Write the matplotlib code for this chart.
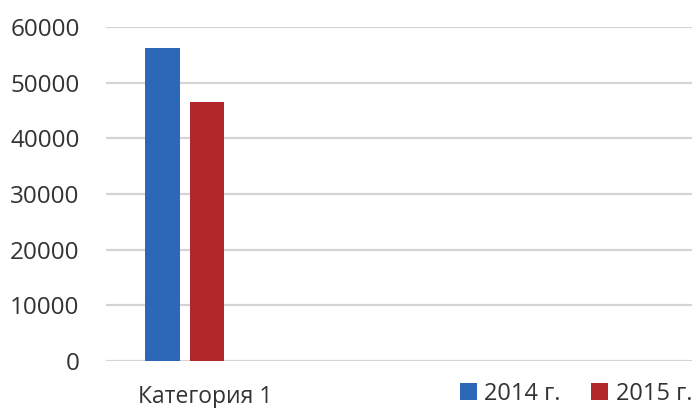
import matplotlib
matplotlib.use("Agg")
import matplotlib.pyplot as plt
import matplotlib.transforms as mtransforms
import numpy as np

categories = ["Категория 1"]
series_names = ["2014 г.", "2015 г."]
values_2014 = [56300]
values_2015 = [46600]
y_ticks = [0, 10000, 20000, 30000, 40000, 50000, 60000]

colors = ["#2d67b8", "#b2282a"]
text_color = "#333333"
grid_color = "#d4d4d4"

plt.rcParams["font.family"] = ["Open Sans", "DejaVu Sans"]

W, H = 692, 408
fig = plt.figure(figsize=(W / 100, H / 100), dpi=100)
left, right, top, bottom = 106, 692, 27, 361
ax = fig.add_axes([left / W, 1 - bottom / H, (right - left) / W, (bottom - top) / H])

x = np.arange(len(categories))
bar_w = 0.2
offset = 0.13
ax.bar(x - offset, values_2014, width=bar_w, color=colors[0], label=series_names[0], zorder=3)
ax.bar(x + offset, values_2015, width=bar_w, color=colors[1], label=series_names[1], zorder=3)

ax.set_xlim(-0.462, 2.98)
ax.set_ylim(0, 60000)
ax.set_yticks(y_ticks)
ax.set_yticklabels([str(v) for v in y_ticks])
ax.yaxis.grid(True, color=grid_color, linewidth=1.6, zorder=0)
ax.set_axisbelow(True)
for s in ax.spines.values():
    s.set_visible(False)

ax.tick_params(axis="y", length=0, pad=19, labelsize=17.5, labelcolor=text_color)
ax.set_xticks(x)
ax.set_xticklabels(categories)
ax.tick_params(axis="x", length=0, pad=17, labelsize=16.5, labelcolor=text_color)
shift = mtransforms.ScaledTranslation(21 / 100, 0, fig.dpi_scale_trans)
for lbl in ax.get_xticklabels():
    lbl.set_transform(lbl.get_transform() + shift)

ax.legend(loc="center right", bbox_to_anchor=(1.0, -0.098), ncol=2, frameon=False,
          fontsize=17, labelcolor=text_color, handlelength=0.7, handleheight=0.7,
          handletextpad=0.32, columnspacing=1.3, borderaxespad=0, borderpad=0)

fig.savefig("out.png", dpi=100)
